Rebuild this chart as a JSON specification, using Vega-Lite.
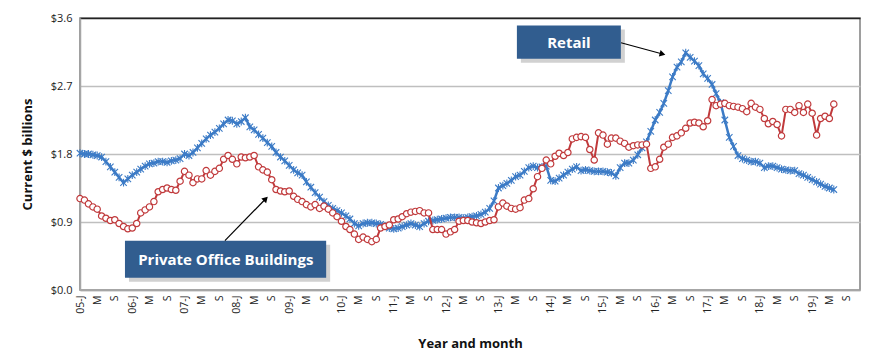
{
  "$schema": "https://vega.github.io/schema/vega-lite/v6.json",
  "width": 780,
  "height": 272,
  "autosize": "none",
  "padding": {"left": 80, "top": 18, "right": 10, "bottom": 63},
  "background": "white",
  "config": {"view": {"stroke": "#7F7F7F", "strokeWidth": 1.5}, "font": "Open Sans"},
  "datasets": {
    "series": [
      {"d":"2005-01-01","r":1.81,"o":1.21},{"d":"2005-02-01","r":1.80,"o":1.19},{"d":"2005-03-01","r":1.80,"o":1.14},{"d":"2005-04-01","r":1.79,"o":1.10},{"d":"2005-05-01","r":1.78,"o":1.07},{"d":"2005-06-01","r":1.76,"o":0.98},{"d":"2005-07-01","r":1.70,"o":0.95},{"d":"2005-08-01","r":1.63,"o":0.92},{"d":"2005-09-01","r":1.56,"o":0.93},{"d":"2005-10-01","r":1.49,"o":0.88},{"d":"2005-11-01","r":1.42,"o":0.84},{"d":"2005-12-01","r":1.47,"o":0.81},
      {"d":"2006-01-01","r":1.52,"o":0.82},{"d":"2006-02-01","r":1.56,"o":0.88},{"d":"2006-03-01","r":1.60,"o":1.02},{"d":"2006-04-01","r":1.64,"o":1.06},{"d":"2006-05-01","r":1.67,"o":1.10},{"d":"2006-06-01","r":1.68,"o":1.17},{"d":"2006-07-01","r":1.70,"o":1.30},{"d":"2006-08-01","r":1.70,"o":1.33},{"d":"2006-09-01","r":1.69,"o":1.35},{"d":"2006-10-01","r":1.71,"o":1.33},{"d":"2006-11-01","r":1.72,"o":1.32},{"d":"2006-12-01","r":1.74,"o":1.44},
      {"d":"2007-01-01","r":1.80,"o":1.57},{"d":"2007-02-01","r":1.78,"o":1.52},{"d":"2007-03-01","r":1.82,"o":1.42},{"d":"2007-04-01","r":1.88,"o":1.47},{"d":"2007-05-01","r":1.94,"o":1.47},{"d":"2007-06-01","r":2.00,"o":1.58},{"d":"2007-07-01","r":2.05,"o":1.52},{"d":"2007-08-01","r":2.09,"o":1.57},{"d":"2007-09-01","r":2.14,"o":1.61},{"d":"2007-10-01","r":2.20,"o":1.73},{"d":"2007-11-01","r":2.25,"o":1.78},{"d":"2007-12-01","r":2.24,"o":1.73},
      {"d":"2008-01-01","r":2.20,"o":1.67},{"d":"2008-02-01","r":2.23,"o":1.76},{"d":"2008-03-01","r":2.28,"o":1.75},{"d":"2008-04-01","r":2.16,"o":1.76},{"d":"2008-05-01","r":2.12,"o":1.78},{"d":"2008-06-01","r":2.06,"o":1.63},{"d":"2008-07-01","r":2.01,"o":1.59},{"d":"2008-08-01","r":1.95,"o":1.56},{"d":"2008-09-01","r":1.90,"o":1.46},{"d":"2008-10-01","r":1.82,"o":1.33},{"d":"2008-11-01","r":1.76,"o":1.31},{"d":"2008-12-01","r":1.71,"o":1.30},
      {"d":"2009-01-01","r":1.65,"o":1.31},{"d":"2009-02-01","r":1.59,"o":1.24},{"d":"2009-03-01","r":1.55,"o":1.20},{"d":"2009-04-01","r":1.52,"o":1.17},{"d":"2009-05-01","r":1.43,"o":1.13},{"d":"2009-06-01","r":1.36,"o":1.10},{"d":"2009-07-01","r":1.29,"o":1.13},{"d":"2009-08-01","r":1.23,"o":1.08},{"d":"2009-09-01","r":1.17,"o":1.11},{"d":"2009-10-01","r":1.12,"o":1.07},{"d":"2009-11-01","r":1.08,"o":1.02},{"d":"2009-12-01","r":1.05,"o":0.97},
      {"d":"2010-01-01","r":1.02,"o":0.91},{"d":"2010-02-01","r":0.98,"o":0.84},{"d":"2010-03-01","r":0.94,"o":0.80},{"d":"2010-04-01","r":0.88,"o":0.74},{"d":"2010-05-01","r":0.85,"o":0.67},{"d":"2010-06-01","r":0.88,"o":0.70},{"d":"2010-07-01","r":0.89,"o":0.67},{"d":"2010-08-01","r":0.89,"o":0.64},{"d":"2010-09-01","r":0.88,"o":0.67},{"d":"2010-10-01","r":0.87,"o":0.82},{"d":"2010-11-01","r":0.85,"o":0.84},{"d":"2010-12-01","r":0.82,"o":0.86},
      {"d":"2011-01-01","r":0.81,"o":0.93},{"d":"2011-02-01","r":0.82,"o":0.94},{"d":"2011-03-01","r":0.84,"o":0.97},{"d":"2011-04-01","r":0.86,"o":1.01},{"d":"2011-05-01","r":0.88,"o":1.03},{"d":"2011-06-01","r":0.86,"o":1.04},{"d":"2011-07-01","r":0.84,"o":1.05},{"d":"2011-08-01","r":0.88,"o":1.02},{"d":"2011-09-01","r":0.91,"o":1.02},{"d":"2011-10-01","r":0.92,"o":0.80},{"d":"2011-11-01","r":0.93,"o":0.80},{"d":"2011-12-01","r":0.94,"o":0.80},
      {"d":"2012-01-01","r":0.95,"o":0.74},{"d":"2012-02-01","r":0.96,"o":0.77},{"d":"2012-03-01","r":0.96,"o":0.80},{"d":"2012-04-01","r":0.96,"o":0.91},{"d":"2012-05-01","r":0.95,"o":0.92},{"d":"2012-06-01","r":0.96,"o":0.92},{"d":"2012-07-01","r":0.97,"o":0.90},{"d":"2012-08-01","r":0.98,"o":0.89},{"d":"2012-09-01","r":1.00,"o":0.88},{"d":"2012-10-01","r":1.03,"o":0.90},{"d":"2012-11-01","r":1.08,"o":0.92},{"d":"2012-12-01","r":1.18,"o":0.93},
      {"d":"2013-01-01","r":1.35,"o":1.10},{"d":"2013-02-01","r":1.38,"o":1.15},{"d":"2013-03-01","r":1.41,"o":1.11},{"d":"2013-04-01","r":1.45,"o":1.08},{"d":"2013-05-01","r":1.50,"o":1.07},{"d":"2013-06-01","r":1.52,"o":1.09},{"d":"2013-07-01","r":1.57,"o":1.19},{"d":"2013-08-01","r":1.62,"o":1.21},{"d":"2013-09-01","r":1.64,"o":1.34},{"d":"2013-10-01","r":1.62,"o":1.50},{"d":"2013-11-01","r":1.63,"o":1.61},{"d":"2013-12-01","r":1.64,"o":1.72},
      {"d":"2014-01-01","r":1.45,"o":1.67},{"d":"2014-02-01","r":1.44,"o":1.77},{"d":"2014-03-01","r":1.48,"o":1.81},{"d":"2014-04-01","r":1.52,"o":1.78},{"d":"2014-05-01","r":1.56,"o":1.82},{"d":"2014-06-01","r":1.60,"o":2.00},{"d":"2014-07-01","r":1.63,"o":2.02},{"d":"2014-08-01","r":1.58,"o":2.03},{"d":"2014-09-01","r":1.59,"o":2.02},{"d":"2014-10-01","r":1.58,"o":1.86},{"d":"2014-11-01","r":1.57,"o":1.72},{"d":"2014-12-01","r":1.57,"o":2.08},
      {"d":"2015-01-01","r":1.57,"o":2.05},{"d":"2015-02-01","r":1.56,"o":1.93},{"d":"2015-03-01","r":1.55,"o":2.01},{"d":"2015-04-01","r":1.51,"o":2.01},{"d":"2015-05-01","r":1.62,"o":1.97},{"d":"2015-06-01","r":1.68,"o":1.94},{"d":"2015-07-01","r":1.68,"o":1.89},{"d":"2015-08-01","r":1.72,"o":1.91},{"d":"2015-09-01","r":1.79,"o":1.92},{"d":"2015-10-01","r":1.88,"o":1.92},{"d":"2015-11-01","r":1.96,"o":1.93},{"d":"2015-12-01","r":2.10,"o":1.61},
      {"d":"2016-01-01","r":2.25,"o":1.63},{"d":"2016-02-01","r":2.35,"o":1.73},{"d":"2016-03-01","r":2.47,"o":1.89},{"d":"2016-04-01","r":2.64,"o":1.93},{"d":"2016-05-01","r":2.82,"o":2.02},{"d":"2016-06-01","r":2.95,"o":2.04},{"d":"2016-07-01","r":3.02,"o":2.08},{"d":"2016-08-01","r":3.14,"o":2.14},{"d":"2016-09-01","r":3.08,"o":2.21},{"d":"2016-10-01","r":3.03,"o":2.22},{"d":"2016-11-01","r":2.97,"o":2.21},{"d":"2016-12-01","r":2.86,"o":2.16},
      {"d":"2017-01-01","r":2.80,"o":2.24},{"d":"2017-02-01","r":2.72,"o":2.52},{"d":"2017-03-01","r":2.60,"o":2.44},{"d":"2017-04-01","r":2.48,"o":2.46},{"d":"2017-05-01","r":2.25,"o":2.47},{"d":"2017-06-01","r":2.02,"o":2.44},{"d":"2017-07-01","r":1.90,"o":2.43},{"d":"2017-08-01","r":1.78,"o":2.42},{"d":"2017-09-01","r":1.74,"o":2.40},{"d":"2017-10-01","r":1.72,"o":2.36},{"d":"2017-11-01","r":1.70,"o":2.47},{"d":"2017-12-01","r":1.70,"o":2.42},
      {"d":"2018-01-01","r":1.68,"o":2.39},{"d":"2018-02-01","r":1.62,"o":2.27},{"d":"2018-03-01","r":1.64,"o":2.20},{"d":"2018-04-01","r":1.64,"o":2.23},{"d":"2018-05-01","r":1.62,"o":2.19},{"d":"2018-06-01","r":1.60,"o":2.04},{"d":"2018-07-01","r":1.59,"o":2.39},{"d":"2018-08-01","r":1.58,"o":2.39},{"d":"2018-09-01","r":1.58,"o":2.35},{"d":"2018-10-01","r":1.54,"o":2.44},{"d":"2018-11-01","r":1.52,"o":2.35},{"d":"2018-12-01","r":1.49,"o":2.46},
      {"d":"2019-01-01","r":1.46,"o":2.34},{"d":"2019-02-01","r":1.43,"o":2.05},{"d":"2019-03-01","r":1.40,"o":2.27},{"d":"2019-04-01","r":1.37,"o":2.30},{"d":"2019-05-01","r":1.35,"o":2.27},{"d":"2019-06-01","r":1.33,"o":2.46}
    ],
    "boxes": [
      {"name":"Retail","d":"2013-05-10","d2":"2015-05-06","v":3.50,"v2":3.06},
      {"name":"Private Office Buildings","d":"2005-11-11","d2":"2009-09-16","v":0.653,"v2":0.163}
    ],
    "labels": [
      {"name":"Retail","d":"2014-05-08","v":3.27},
      {"name":"Private Office Buildings","d":"2007-10-16","v":0.40}
    ],
    "arrows": [
      {"name":"Retail","d":"2015-05-07","v":3.273,"d2":"2016-02-21","v2":3.124},
      {"name":"Office","d":"2007-10-10","v":0.653,"d2":"2008-07-21","v2":1.208}
    ],
    "heads": [
      {"name":"Retail","d":"2016-02-21","v":3.124},
      {"name":"Office","d":"2008-07-21","v":1.208}
    ]
  },
  "encoding": {
    "x": {"field": "d", "type": "temporal",
      "scale": {"type": "utc", "domain": ["2005-01-01", "2019-12-01"], "nice": false},
      "axis": {"title": "Year and month", "titleFont": "Open Sans", "titleFontSize": 13, "titleFontWeight": "bold", "titleColor": "#111", "titlePadding": 24,
        "tickCount": {"interval": "month", "step": 4},
        "labelExpr": "utcmonth(datum.value)==0 ? utcFormat(datum.value,'%y')+'-J' : (utcmonth(datum.value)==4 ? 'M' : 'S')",
        "labelAngle": 270, "labelFontSize": 10.5, "labelColor": "#222", "labelPadding": 5, "labelOverlap": false, "labelBound": false, "labelFlush": false,
        "ticks": false, "grid": false, "domainColor": "#A6A6A6", "domainWidth": 1.5}},
    "y": {"field": "v", "type": "quantitative",
      "scale": {"domain": [0, 3.6], "nice": false},
      "axis": {"title": "Current $ billions", "titleFont": "Open Sans", "titleFontSize": 13, "titleFontWeight": "bold", "titleColor": "#111", "titlePadding": 16,
        "values": [0, 0.9, 1.8, 2.7, 3.6],
        "labelExpr": "'$' + format(datum.value, '.1f')",
        "labelFontSize": 11, "labelColor": "#222", "labelPadding": 8,
        "ticks": false, "grid": true,
        "gridColor": {"condition": {"test": "datum.value >= 3.6", "value": "#222222"}, "value": "#BFBFBF"},
        "gridWidth": 1.5, "domainColor": "#A6A6A6", "domainWidth": 1.5}}
  },
  "layer": [
    {
      "data": {"name": "series"},
      "transform": [{"fold": ["r"], "as": ["key", "v"]}],
      "mark": {"type": "line", "color": "#3C7BC6", "strokeWidth": 2.5}
    },
    {
      "data": {"name": "series"},
      "transform": [{"fold": ["r"], "as": ["key", "v"]}],
      "mark": {"type": "point", "shape": "M-1,-1L1,1M1,-1L-1,1M0,-1.2L0,1.2", "filled": false, "stroke": "#3C7BC6", "strokeWidth": 1.1, "size": 42, "opacity": 1}
    },
    {
      "data": {"name": "series"},
      "transform": [{"fold": ["o"], "as": ["key", "v"]}],
      "mark": {"type": "line", "color": "#C0393B", "strokeWidth": 2}
    },
    {
      "data": {"name": "series"},
      "transform": [{"fold": ["o"], "as": ["key", "v"]}],
      "mark": {"type": "point", "shape": "circle", "filled": false, "fill": "white", "fillOpacity": 1, "stroke": "#C0393B", "strokeWidth": 1.2, "size": 40, "opacity": 1}
    },
    {
      "data": {"name": "boxes"},
      "mark": {"type": "rect", "fill": "#9A9A9A", "opacity": 0.45, "xOffset": 4, "yOffset": 4, "x2Offset": 4, "y2Offset": 4},
      "encoding": {"x2": {"field": "d2"}, "y2": {"field": "v2"}}
    },
    {
      "data": {"name": "boxes"},
      "mark": {"type": "rect", "fill": "#315D8F"},
      "encoding": {"x2": {"field": "d2"}, "y2": {"field": "v2"}}
    },
    {
      "data": {"name": "labels"},
      "mark": {"type": "text", "color": "white", "fontSize": 15, "fontWeight": "bold", "font": "Open Sans", "align": "center", "baseline": "middle"},
      "encoding": {"text": {"field": "name"}}
    },
    {
      "data": {"name": "arrows"},
      "mark": {"type": "rule", "color": "black", "strokeWidth": 1.2},
      "encoding": {"x2": {"field": "d2"}, "y2": {"field": "v2"}}
    },
    {
      "data": {"name": "heads"},
      "transform": [{"filter": "datum.name == 'Retail'"}],
      "mark": {"type": "point", "shape": "triangle-right", "filled": true, "color": "black", "size": 45, "angle": 15, "opacity": 1}
    },
    {
      "data": {"name": "heads"},
      "transform": [{"filter": "datum.name == 'Office'"}],
      "mark": {"type": "point", "shape": "triangle-right", "filled": true, "color": "black", "size": 45, "angle": 314, "opacity": 1}
    }
  ]
}
